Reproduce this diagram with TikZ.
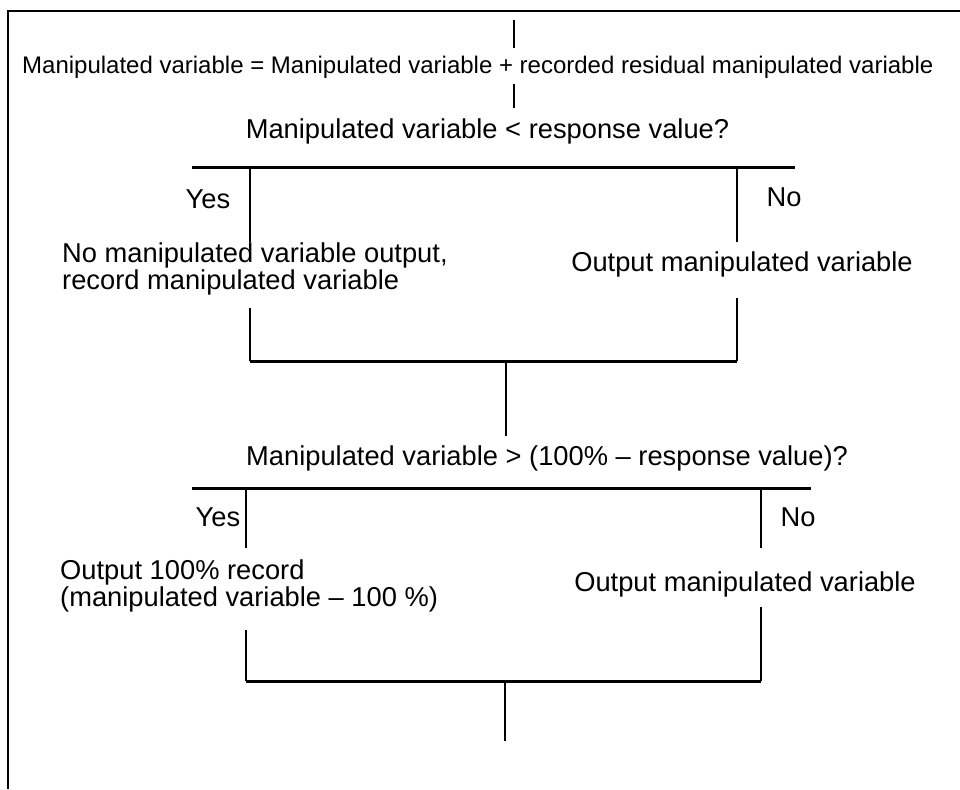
\documentclass[tikz,border=0pt]{standalone}
\usepackage{fontspec}
\setmainfont{Liberation Sans}
\begin{document}
\begin{tikzpicture}[x=1pt,y=-1pt,
  lbl/.style={inner sep=0pt, font=\fontsize{27.3}{24.5}\selectfont},
  toplbl/.style={inner sep=0pt, font=\fontsize{24}{28}\selectfont},
  vline/.style={line width=2pt},
  hline/.style={line width=3pt},
  frameline/.style={line width=2.5pt}
]
\useasboundingbox (0,0) rectangle (960,789);
% frame
\coordinate (fbl) at (8,789);
\coordinate (ftl) at (8,11);
\coordinate (ftr) at (960,11);
\draw[frameline] (fbl) -- (ftl) -- (ftr);

% top formula
\node[toplbl, anchor=west] (top) at (22,67) {Manipulated variable = Manipulated variable + recorded residual manipulated variable};
\coordinate (ta1) at (514,20);
\coordinate (ta2) at (514,48);
\coordinate (tb1) at (514,84);
\coordinate (tb2) at (514,108);
\draw[vline] (ta1) -- (ta2);
\draw[vline] (tb1) -- (tb2);

% first decision
\node[lbl] (q1) at (487.5,131) {Manipulated variable < response value?};
\coordinate (h1l) at (192,167);
\coordinate (h1r) at (795,167);
\draw[hline] (h1l) -- (h1r);
\coordinate (y1a) at (250,167);
\coordinate (y1b) at (250,242);
\coordinate (n1a) at (737,167);
\coordinate (n1b) at (737,242);
\draw[vline] (y1a) -- (y1b);
\draw[vline] (n1a) -- (n1b);
\node[lbl] (yes1) at (208,199) {Yes};
\node[lbl] (no1) at (784,197) {No};
\node[lbl, anchor=west, align=left] (act1) at (62,269) {No manipulated variable output,\\record manipulated variable};
\node[lbl] (out1) at (742,264) {Output manipulated variable};
\coordinate (y1c) at (250,308);
\coordinate (y1d) at (250,361);
\coordinate (n1c) at (737,298);
\coordinate (n1d) at (737,361);
\draw[vline] (y1c) -- (y1d);
\draw[vline] (n1c) -- (n1d);
\draw[hline] (y1d) -- (n1d);
\coordinate (m1a) at (506,361);
\coordinate (m1b) at (506,436);
\draw[vline] (m1a) -- (m1b);

% second decision
\node[lbl, anchor=west] (q2) at (246,458) {Manipulated variable > (100\% – response value)?};
\coordinate (h2l) at (192,488);
\coordinate (h2r) at (811,488);
\draw[hline] (h2l) -- (h2r);
\coordinate (y2a) at (246,488);
\coordinate (y2b) at (246,548);
\coordinate (n2a) at (761,488);
\coordinate (n2b) at (761,548);
\draw[vline] (y2a) -- (y2b);
\draw[vline] (n2a) -- (n2b);
\node[lbl] (yes2) at (218,517) {Yes};
\node[lbl] (no2) at (798,517) {No};
\node[lbl, anchor=west, align=left] (act2) at (60,586) {Output 100\% record\\(manipulated variable – 100 \%)};
\node[lbl] (out2) at (745,584) {Output manipulated variable};
\coordinate (y2c) at (246,630);
\coordinate (y2d) at (246,681);
\coordinate (n2c) at (761,607);
\coordinate (n2d) at (761,681);
\draw[vline] (y2c) -- (y2d);
\draw[vline] (n2c) -- (n2d);
\draw[hline] (y2d) -- (n2d);
\coordinate (m2a) at (505,681);
\coordinate (m2b) at (505,741);
\draw[vline] (m2a) -- (m2b);
\end{tikzpicture}
\end{document}
